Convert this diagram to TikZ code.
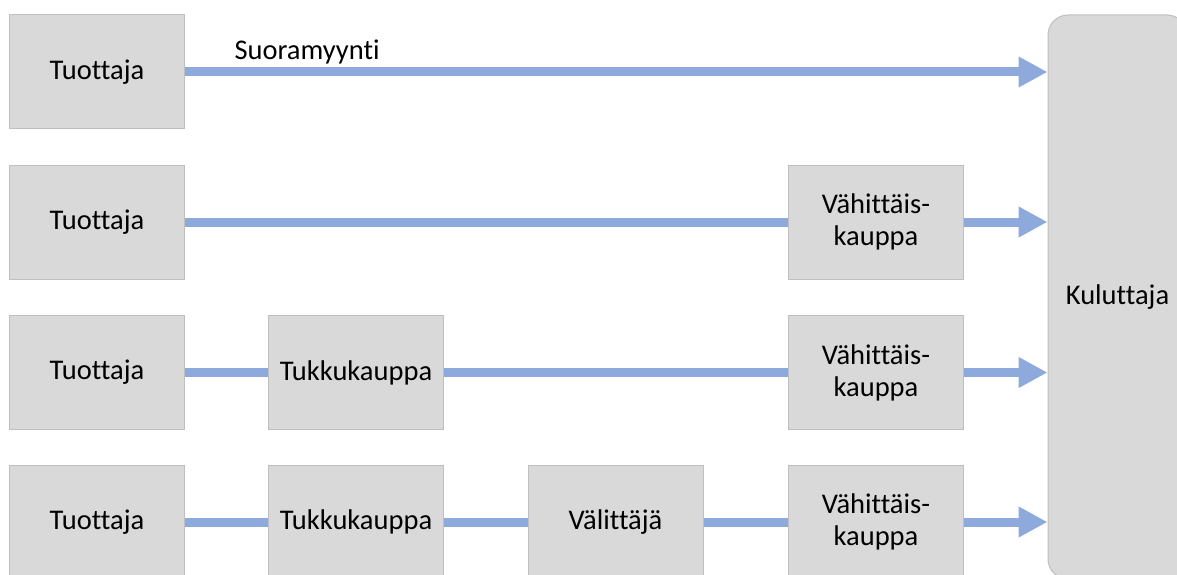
\documentclass[tikz,border=0pt]{standalone}
\usepackage{fontspec}
\setmainfont{Carlito}[Ligatures=NoCommon]
\usepackage{tikz}
\usetikzlibrary{positioning,arrows.meta}
\definecolor{boxgray}{HTML}{D9D9D9}
\definecolor{boxline}{HTML}{BFBFBF}
\definecolor{flowblue}{HTML}{8EA9DB}

\begin{document}
\begin{tikzpicture}[x=1pt, y=1pt, font=\fontsize{28.5}{32}\selectfont,
  stage/.style={draw=boxline, fill=boxgray, line width=1pt, minimum width=175pt, minimum height=114pt, align=center, inner sep=0pt},
  link/.style={draw=flowblue, line width=9pt},
  flow/.style={link, -{Triangle[length=29pt, width=29pt]}}]
  \useasboundingbox (0,0) rectangle (1177,-575);
  \clip (0,0) rectangle (1177,-575);
  \node[stage, rounded corners=20pt, minimum width=139pt, minimum height=564pt] (consumer) at (1117.5,-297) {Kuluttaja};
  % producers
  \node[stage] (producerA) at (97,-72) {Tuottaja};
  \node[stage] (producerB) at (97,-222) {Tuottaja};
  \node[stage] (producerC) at (97,-372.5) {Tuottaja};
  \node[stage] (producerD) at (97,-522) {Tuottaja};
  % intermediaries
  \node[stage] (retailB) at (876,-222) {Vähittäis-\\kauppa};
  \node[stage] (wholesaleC) at (356,-372.5) {Tukkukauppa};
  \node[stage] (retailC) at (876,-372.5) {Vähittäis-\\kauppa};
  \node[stage] (wholesaleD) at (356,-522) {Tukkukauppa};
  \node[stage] (brokerD) at (615.5,-522) {Välittäjä};
  \node[stage] (retailD) at (876,-522) {Vähittäis-\\kauppa};
  \node[anchor=base west] (directlabel) at (231,-60) {Suoramyynti};
  % channels
  \draw[flow] (producerA.east) -- (consumer.west |- producerA.east);
  \draw[link] (producerB.east) -- (retailB.west);
  \draw[link] (producerC.east) -- (wholesaleC.west);
  \draw[link] (wholesaleC.east) -- (retailC.west);
  \draw[link] (producerD.east) -- (wholesaleD.west);
  \draw[link] (wholesaleD.east) -- (brokerD.west);
  \draw[link] (brokerD.east) -- (retailD.west);
  \foreach \n in {retailB,retailC,retailD}
    \draw[flow] (\n.east) -- (consumer.west |- \n.east);
\end{tikzpicture}
\end{document}
